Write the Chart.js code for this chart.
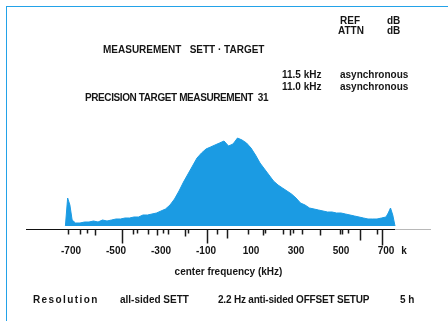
<!DOCTYPE html>
<html>
<head>
<meta charset="utf-8">
<script src="https://cdn.jsdelivr.net/npm/chart.js@4/dist/chart.umd.min.js"></script>
<style>
  html, body { margin: 0; padding: 0; background: #fff; }
  #wrap { position: relative; width: 448px; height: 321px; overflow: hidden; }
  #frame { position: absolute; left: 6px; top: 6px; width: 470px; height: 340px;
           border: 1.5px solid #23a2e8; box-sizing: border-box; }
  canvas { position: absolute; left: 0; top: 0; }
  .t { position: absolute; font: bold 10px "Liberation Sans", Arial, sans-serif;
       color: #151515; white-space: pre; line-height: 12px; }
</style>
</head>
<body>
<div id="wrap">
  <div id="frame"></div>
  <canvas id="c" width="448" height="321"></canvas>

  <div class="t" style="left:340px;top:15px">REF</div>
  <div class="t" style="left:387px;top:15px">dB</div>
  <div class="t" style="left:338px;top:25px">ATTN</div>
  <div class="t" style="left:387px;top:25px">dB</div>

  <div class="t" style="left:103px;top:44px">MEASUREMENT   SETT · TARGET</div>

  <div class="t" style="left:282px;top:69px">11.5 kHz</div>
  <div class="t" style="left:340px;top:69px">asynchronous</div>
  <div class="t" style="left:282px;top:81px">11.0 kHz</div>
  <div class="t" style="left:340px;top:81px">asynchronous</div>

  <div class="t" style="left:85px;top:92px;letter-spacing:-0.4px">PRECISION TARGET MEASUREMENT  31</div>

  <div class="t" style="left:33px;top:294px;letter-spacing:1.4px">Resolution</div>
  <div class="t" style="left:120px;top:294px">all-sided SETT</div>
  <div class="t" style="left:218px;top:294px;letter-spacing:-0.2px">2.2 Hz anti-sided OFFSET SETUP</div>
  <div class="t" style="left:400px;top:294px">5 h</div>
</div>

<script>
// Frequency offsets (kHz) and measured level of the spectrum envelope
const frequencies = [
  -725, -715, -705, -695, -680, -660, -640, -620, -600, -580,
  -560, -540, -520, -500, -480, -460, -440, -420, -400, -380,
  -360, -340, -320, -300, -280, -260, -240, -220, -200, -180,
  -160, -140, -120, -100, -80, -60, -40, -20, 0, 20,
  40, 60, 80, 100, 120, 140, 160, 180, 200, 220,
  240, 260, 280, 300, 320, 340, 360, 380, 400, 420,
  440, 460, 480, 500, 520, 540, 560, 580, 600, 620,
  640, 660, 680, 700, 710, 720, 730, 740
];
const levels = [
  0, 28, 21, 6, 3, 3, 4, 4, 5, 4,
  6, 5, 6, 7, 7, 8, 8, 9, 9, 11,
  11, 12, 13, 15, 17, 21, 27, 35, 44, 52,
  60, 68, 73, 77, 79, 81, 83, 85, 80, 82,
  88, 86, 83, 78, 71, 63, 57, 51, 45, 41,
  38, 35, 32, 28, 23, 21, 18, 17, 16, 15,
  14, 14, 13, 13, 12, 11, 10, 9, 8, 7,
  7, 7, 8, 9, 13, 18, 11, 0
];

// Labelled axis positions
const tickValues = [-700, -500, -300, -100, 100, 300, 500, 700, 780];
const tickLabels = ['-700', '-500', '-300', '-100', '100', '300', '500', '700', 'k'];

// Ruler marks under the baseline: [frequency, mark length in px]
const rulerMarks = [
  [-715, 5], [-661, 5], [-630, 4], [-594, 6], [-474, 14], [-425, 5], [-407, 4],
  [-358, 5], [-318, 6], [-292, 4], [-269, 5], [-194, 7], [-180, 4], [-96, 14],
  [-51, 5], [-7, 9], [87, 5], [154, 6], [163, 4], [243, 5], [274, 6], [287, 4],
  [327, 5], [407, 6], [496, 5], [505, 5], [532, 4], [585, 11], [661, 5], [683, 16]
];
const baselineEnd = 740;

const ruler = {
  id: 'ruler',
  afterDatasetsDraw(chart) {
    const { ctx, chartArea, scales: { x } } = chart;
    const y0 = Math.round(chartArea.bottom) + 0.5;
    ctx.save();
    ctx.lineWidth = 1.2;
    ctx.strokeStyle = '#111';
    ctx.beginPath();
    ctx.moveTo(x.getPixelForValue(x.min), y0);
    ctx.lineTo(x.getPixelForValue(baselineEnd), y0);
    ctx.stroke();
    ctx.strokeStyle = '#b8b8b8';
    ctx.beginPath();
    ctx.moveTo(x.getPixelForValue(baselineEnd), y0);
    ctx.lineTo(x.getPixelForValue(x.max), y0);
    ctx.stroke();
    ctx.strokeStyle = '#1a1a1a';
    ctx.lineWidth = 1.5;
    rulerMarks.forEach(([v, len]) => {
      const px = Math.round(x.getPixelForValue(v)) + 0.5;
      ctx.beginPath();
      ctx.moveTo(px, y0);
      ctx.lineTo(px, y0 + len);
      ctx.stroke();
    });
    ctx.restore();
  }
};

new Chart(document.getElementById('c'), {
  type: 'line',
  data: {
    datasets: [{
      data: frequencies.map((f, i) => ({ x: f, y: levels[i] })),
      borderColor: '#1b9be3',
      backgroundColor: '#1b9be3',
      borderWidth: 1,
      pointRadius: 0,
      tension: 0,
      fill: 'origin'
    }]
  },
  options: {
    responsive: false,
    animation: false,
    layout: { padding: { left: 26, right: 17, top: 126, bottom: 39 } },
    plugins: { legend: { display: false }, tooltip: { enabled: false } },
    scales: {
      x: {
        type: 'linear',
        min: -900,
        max: 900,
        grid: { display: false, drawTicks: true, tickLength: 16 },
        border: { display: false },
        afterBuildTicks(scale) {
          scale.ticks = tickValues.map(v => ({ value: v }));
        },
        ticks: {
          autoSkip: false,
          maxRotation: 0,
          padding: 0,
          color: '#151515',
          font: { family: 'Liberation Sans', size: 10, weight: 'bold' },
          callback: (value) => tickLabels[tickValues.indexOf(value)]
        },
        title: {
          display: true,
          text: 'center frequency (kHz)',
          color: '#151515',
          padding: { top: 9, bottom: 4 },
          font: { family: 'Liberation Sans', size: 10, weight: 'bold' }
        }
      },
      y: { display: false, min: -3, max: 100 }
    }
  },
  plugins: [ruler]
});
</script>
</body>
</html>
